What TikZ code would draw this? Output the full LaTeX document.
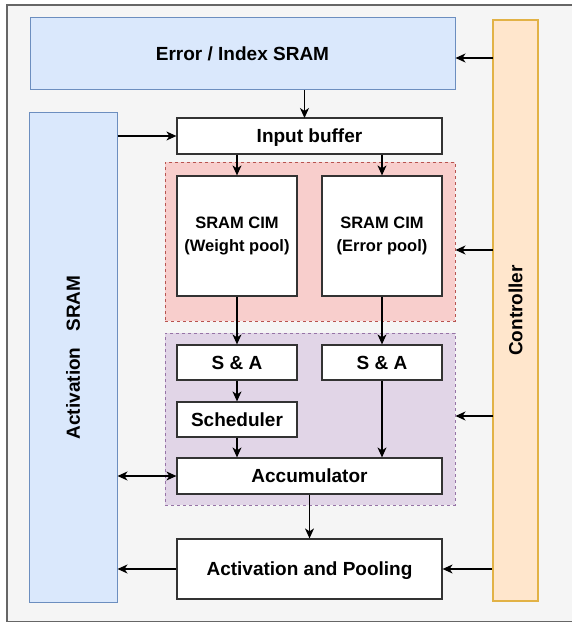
\documentclass[tikz,border=0pt]{standalone}
\usepackage{fontspec}
\setmainfont{Liberation Sans}
\usetikzlibrary{arrows.meta}

\definecolor{bgfill}{HTML}{F5F5F5}
\definecolor{bgline}{HTML}{666666}
\definecolor{bluefill}{HTML}{DAE8FC}
\definecolor{blueline}{HTML}{6C8EBF}
\definecolor{ctrlfill}{HTML}{FFE6CC}
\definecolor{ctrlline}{HTML}{E2B246}
\definecolor{redfill}{HTML}{F8CECC}
\definecolor{redline}{HTML}{B85450}
\definecolor{purplefill}{HTML}{E1D5E7}
\definecolor{purpleline}{HTML}{9673A6}

\tikzset{
  blk/.style={draw=black!80, fill=white, line width=1.2pt, inner sep=0pt,
    align=center, font=\fontsize{19}{22}\selectfont\bfseries,
    text height=13.6pt, text depth=0pt},
  cim/.style={draw=black!80, fill=white, line width=1.2pt, inner sep=0pt,
    minimum width=120pt, minimum height=120pt, align=center,
    font=\fontsize{16.5}{23}\selectfont\bfseries},
  mem/.style={draw=blueline, fill=bluefill, line width=1pt, inner sep=0pt,
    font=\fontsize{19}{22}\selectfont\bfseries, text height=13.6pt, text depth=0pt},
  ctrlbox/.style={draw=ctrlline, fill=ctrlfill, line width=1.3pt, inner sep=0pt},
  region/.style={dash pattern=on 3pt off 3pt, line width=1pt, inner sep=0pt},
}

\begin{document}
\begin{tikzpicture}[x=1pt,y=-1pt,line width=1.2pt,>={Stealth[length=10pt,width=9pt,inset=3pt]}]
    \useasboundingbox (0,0) rectangle (571,623);
    \draw[fill=bgfill, draw=bgline] (7,5) rectangle (575,621.5);

    % memories and controller
    \node[mem, minimum width=425pt, minimum height=72pt] (errsram) at (242.5,54) {Error / Index SRAM};
    \node[mem, minimum width=88pt, minimum height=489pt,
          label={[rotate=90, font=\fontsize{19}{22}\selectfont\bfseries, text height=13.6pt, text depth=0pt]center:Activation\ \ \ SRAM}] (actsram) at (73,357.5) {};
    \node[ctrlbox, minimum width=45pt, minimum height=581pt,
          label={[rotate=90, font=\fontsize{19}{22}\selectfont\bfseries, text height=13.6pt, text depth=0pt]center:Controller}] (ctrl) at (515.5,310.5) {};

    % dashed regions
    \node[region, draw=redline, fill=redfill, minimum width=290pt, minimum height=159pt] (cimregion) at (310,241.5) {};
    \node[region, draw=purpleline, fill=purplefill, minimum width=290pt, minimum height=172pt] (sumregion) at (310,419) {};

    % datapath blocks
    \node[blk, minimum width=265pt, minimum height=36pt] (inbuf) at (309.5,136) {Input buffer};
    \node[cim] (cimw) at (237,236) {SRAM CIM\\(Weight pool)};
    \node[cim] (cime) at (382,236) {SRAM CIM\\(Error pool)};
    \node[blk, minimum width=120pt, minimum height=35pt] (saw) at (237,362.5) {S \& A};
    \node[blk, minimum width=120pt, minimum height=35pt] (sae) at (382,362.5) {S \& A};
    \node[blk, minimum width=120pt, minimum height=35pt] (sched) at (237,419.5) {Scheduler};
    \node[blk, minimum width=265pt, minimum height=36pt] (accu) at (309.5,476) {Accumulator};
    \node[blk, minimum width=265pt, minimum height=60pt] (actpool) at (309.5,569) {Activation and Pooling};

    % controller taps
    \coordinate (tap1) at (493,58);
    \coordinate (tap2) at (493,250);
    \coordinate (tap3) at (493,416);
    \coordinate (tap0) at (304.5,118);

    \draw (tap1) edge[->] (errsram.east |- tap1);
    \draw (tap2) edge[->] (cimregion.east |- tap2);
    \draw (tap3) edge[->] (sumregion.east |- tap3);
    \draw (ctrl.west |- actpool) edge[->] (actpool.east);

    \draw (errsram.south -| tap0) edge[->] (tap0);
    \draw (actsram.east |- inbuf) edge[->] (inbuf.west);
    \draw (inbuf.south -| cimw) edge[->] (cimw.north);
    \draw (inbuf.south -| cime) edge[->] (cime.north);
    \draw (cimw.south) edge[->] (saw.north);
    \draw (cime.south) edge[->] (sae.north);
    \draw (saw.south) edge[->] (sched.north);
    \draw (sched.south) edge[->] (accu.north -| sched);
    \draw (sae.south) edge[->] (accu.north -| sae);
    \draw (actsram.east |- accu) edge[<->] (accu.west);
    \draw (accu.south) edge[->] (actpool.north);
    \draw (actpool.west) edge[->] (actsram.east |- actpool);
  \end{tikzpicture}
\end{document}
